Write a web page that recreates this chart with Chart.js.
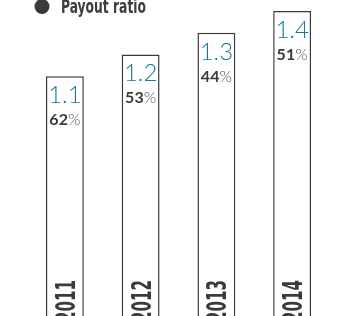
<!DOCTYPE html>
<html>
<head>
<meta charset="utf-8">
<script src="https://cdn.jsdelivr.net/npm/chart.js@4"></script>
<style>
  html, body { margin: 0; padding: 0; background: #fff; overflow: hidden; }
  #myChart { display: block; }
</style>
</head>
<body>
<canvas id="myChart" width="344" height="316"></canvas>
<script>
  const years = ['2011', '2012', '2013', '2014'];
  const dividend = [1.1, 1.2, 1.3, 1.4];
  const payoutRatio = [62, 53, 44, 51];
  const legendLabel = 'Payout ratio';

  const teal = '#18789a';
  const dark = '#3a3a3a';
  const narrow = '"DejaVu Sans Condensed", "Liberation Sans", sans-serif';
  const numFont = 'Lato, "Open Sans", sans-serif';

  // draw text squeezed to a given width (no narrow font is installed)
  function squeezed(ctx, text, x, y, width) {
    const w = ctx.measureText(text).width;
    ctx.save();
    ctx.translate(x, y);
    ctx.scale(width / w, 1);
    ctx.fillText(text, 0, 0);
    ctx.restore();
  }

  // text inside the bars, year labels and the legend line at the top
  const barText = {
    id: 'barText',
    afterDatasetsDraw(chart) {
      const ctx = chart.ctx;
      const meta = chart.getDatasetMeta(0);
      ctx.save();
      meta.data.forEach((bar, i) => {
        const x = bar.x;
        const top = bar.y;

        ctx.textAlign = 'center';
        ctx.textBaseline = 'alphabetic';
        ctx.fillStyle = teal;
        ctx.font = '300 24px ' + numFont;
        ctx.fillText(dividend[i].toFixed(1), x, top + 27);

        const num = String(payoutRatio[i]);
        ctx.font = 'bold 16px ' + numFont;
        const w1 = ctx.measureText(num).width;
        ctx.font = '300 16px ' + numFont;
        const w2 = ctx.measureText('%').width;
        let sx = x - (w1 + w2) / 2;
        ctx.textAlign = 'left';
        ctx.fillStyle = dark;
        ctx.font = 'bold 16px ' + numFont;
        ctx.fillText(num, sx, top + 49);
        ctx.fillStyle = '#555';
        ctx.font = '300 16px ' + numFont;
        ctx.fillText('%', sx + w1, top + 49);

        // year, rotated, at the foot of the bar
        ctx.save();
        ctx.translate(x + 10, 322);
        ctx.rotate(-Math.PI / 2);
        ctx.textAlign = 'left';
        ctx.fillStyle = dark;
        ctx.font = 'bold 27px ' + narrow;
        squeezed(ctx, years[i], 0, 0, 42);
        ctx.restore();
      });

      ctx.fillStyle = dark;
      ctx.beginPath();
      ctx.arc(42, 6.5, 7.5, 0, Math.PI * 2);
      ctx.fill();
      ctx.font = 'bold 20px ' + narrow;
      ctx.textAlign = 'left';
      ctx.fillStyle = '#3d3d3d';
      squeezed(ctx, legendLabel, 61, 13, 85);
      ctx.restore();
    }
  };

  const data = {
    labels: years,
    datasets: [{
      label: legendLabel,
      data: dividend,
      backgroundColor: '#ffffff',
      borderColor: dark,
      borderWidth: 1.5,
      barPercentage: 0.5,
      categoryPercentage: 1,
    }]
  };

  const config = {
    type: 'bar',
    data: data,
    options: {
      responsive: false,
      animation: false,
      layout: { padding: { left: 27, right: 14, top: 0, bottom: 0 } },
      plugins: {
        legend: { display: false },
        tooltip: { enabled: false },
      },
      scales: {
        x: { display: false },
        y: { display: false, min: 0, max: 1.45 }
      }
    },
    plugins: [barText]
  };

  const myChart = new Chart(
    document.getElementById('myChart'),
    config
  );
</script>
</body>
</html>
